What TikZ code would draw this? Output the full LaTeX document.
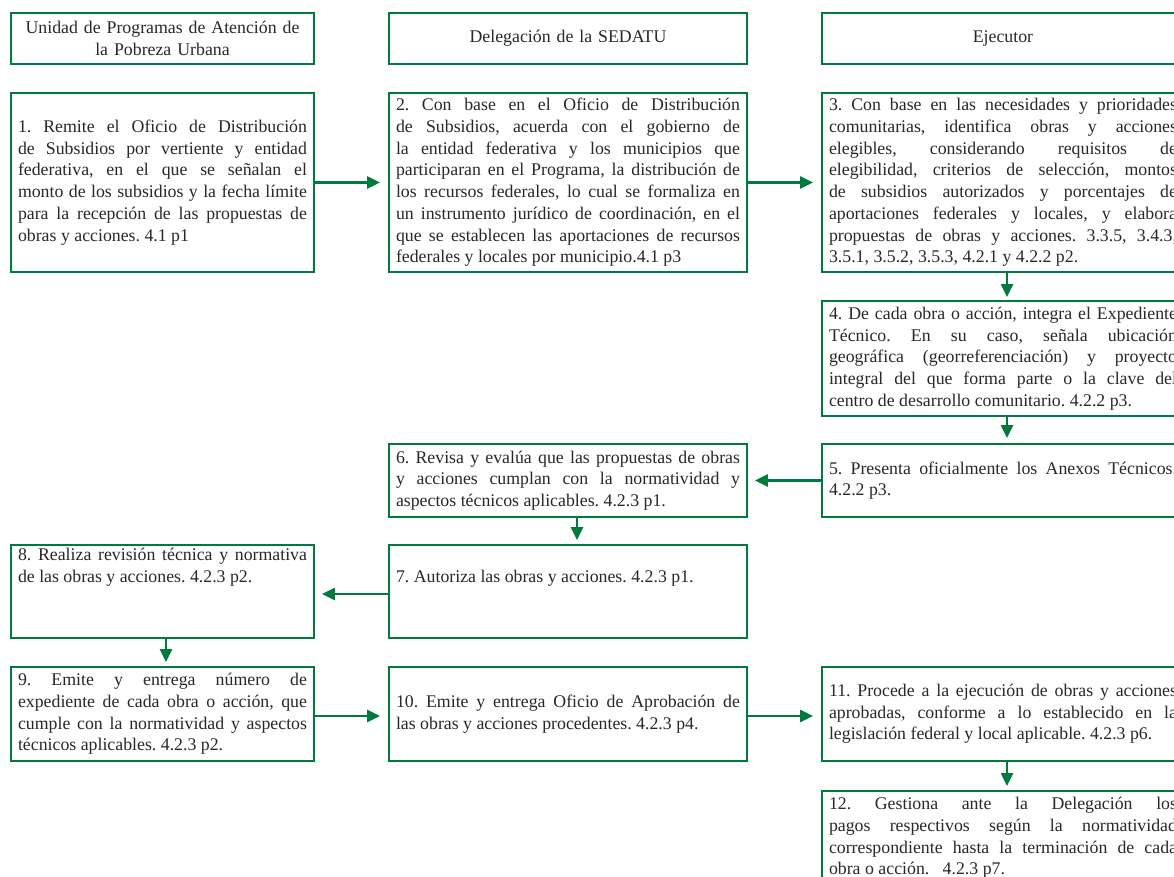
\documentclass[tikz,border=0pt]{standalone}
\usepackage{fontspec}
\setmainfont{Liberation Serif}
\usetikzlibrary{arrows.meta}
\definecolor{fgreen}{RGB}{0,122,61}
\definecolor{txt}{RGB}{40,40,40}
\frenchspacing
\begin{document}
\begin{tikzpicture}[x=1pt,y=-1pt,
  every node/.style={font=\fontsize{17.8}{21.7}\selectfont\frenchspacing, text=txt},
  box/.style={draw=fgreen, line width=1.9pt, rectangle, inner xsep=7pt, inner ysep=2pt, align=justify},
  lcol/.style={box, text width=289pt, minimum width=303pt},
  mcol/.style={box, text width=344pt, minimum width=358pt},
  rcol/.style={box, text width=348pt, minimum width=362pt},
  head/.style={align=center},
  arr/.style={draw=fgreen, line width=2.4pt, -{Triangle[length=13pt,width=12pt]}}
]
\clip (0,0) rectangle (1174,877);
\fill[white] (0,0) rectangle (1174,877);
\hyphenpenalty=10000 \tolerance=10000

% headers
\node[lcol, head, minimum height=51pt] (h1) at (162.5,38.5) {Unidad de Programas de Atención de\\la Pobreza Urbana};
\node[mcol, head, minimum height=51pt] (h2) at (568,38.5) {Delegación de la SEDATU};
\node[rcol, head, minimum height=51pt] (h3) at (1003,38.5) {Ejecutor};

% row 1
\node[lcol, minimum height=179pt] (b1) at (162.5,182.5) {1. Remite el Oficio de Distribución\linebreak de Subsidios por vertiente y entidad\linebreak federativa, en el que se señalan el\linebreak monto de los subsidios y la fecha límite\linebreak para la recepción de las propuestas de\linebreak obras y acciones. 4.1 p1};
\node[mcol, minimum height=179pt] (b2) at (568,182.5) {2. Con base en el Oficio de Distribución\linebreak de Subsidios, acuerda con el gobierno de\linebreak la entidad federativa y los municipios que\linebreak participaran en el Programa, la distribución de\linebreak los recursos federales, lo cual se formaliza en\linebreak un instrumento jurídico de coordinación, en el\linebreak que se establecen las aportaciones de recursos\linebreak federales y locales por municipio.4.1 p3};
\node[rcol, minimum height=179pt] (b3) at (1003,182.5) {3. Con base en las necesidades y prioridades\linebreak comunitarias, identifica obras y acciones\linebreak elegibles, considerando requisitos de\linebreak elegibilidad, criterios de selección, montos\linebreak de subsidios autorizados y porcentajes de\linebreak aportaciones federales y locales, y elabora\linebreak propuestas de obras y acciones. 3.3.5, 3.4.3,\linebreak 3.5.1, 3.5.2, 3.5.3, 4.2.1 y 4.2.2 p2.};

\node[rcol, minimum height=115pt] (b4) at (1003,358.5) {4. De cada obra o acción, integra el Expediente\linebreak Técnico. En su caso, señala ubicación\linebreak geográfica (georreferenciación) y proyecto\linebreak integral del que forma parte o la clave del\linebreak centro de desarrollo comunitario. 4.2.2 p3.};

\node[rcol, minimum height=73pt] (b5) at (1003,480.5) {5. Presenta oficialmente los Anexos Técnicos.\linebreak 4.2.2 p3.};
\node[mcol, minimum height=73pt] (b6) at (568,480.5) {6. Revisa y evalúa que las propuestas de obras\linebreak y acciones cumplan con la normatividad y\linebreak aspectos técnicos aplicables. 4.2.3 p1.};

\node[mcol, minimum height=93pt] (b7) at (568,591.5) {\parbox[c][86pt][t]{344pt}{\vspace*{21.7pt}7. Autoriza las obras y acciones. 4.2.3 p1.}};
\node[lcol, minimum height=93pt] (b8) at (162.5,591.5) {\parbox[c][86pt][t]{289pt}{\hyphenpenalty=10000 8. Realiza revisión técnica y normativa\linebreak de las obras y acciones. 4.2.3 p2.}};

\node[lcol, minimum height=94pt] (b9) at (162.5,714) {9. Emite y entrega número de\linebreak expediente de cada obra o acción, que\linebreak cumple con la normatividad y aspectos\linebreak técnicos aplicables. 4.2.3 p2.};
\node[mcol, minimum height=94pt] (b10) at (568,714) {10. Emite y entrega Oficio de Aprobación de\linebreak las obras y acciones procedentes. 4.2.3 p4.};
\node[rcol, minimum height=94pt] (b11) at (1003,714) {11. Procede a la ejecución de obras y acciones\linebreak aprobadas, conforme a lo establecido en la\linebreak legislación federal y local aplicable. 4.2.3 p6.};
\node[rcol, minimum height=94pt] (b12) at (1003,838) {12. Gestiona ante la Delegación los\linebreak pagos respectivos según la normatividad\linebreak correspondiente hasta la terminación de cada\linebreak obra o acción.~~~4.2.3 p7.};

% connectors
\draw[arr, shorten >=8pt] (b1.east) -- (b2.west);
\draw[arr, shorten >=8pt] (b2.east) -- (b3.west);
\draw[arr, shorten >=3pt] ([xshift=4pt]b3.south) -- ([xshift=4pt]b4.north);
\draw[arr, shorten >=5pt] ([xshift=4pt]b4.south) -- ([xshift=4pt]b5.north);
\draw[arr, shorten >=7pt] (b5.west) -- (b6.east);
\draw[arr, shorten >=4pt] ([xshift=9pt]b6.south) -- ([xshift=9pt]b7.north);
\draw[arr, shorten >=7pt] ([yshift=-2.5pt]b7.west) -- ([yshift=-2.5pt]b8.east);
\draw[arr, shorten >=4pt] ([xshift=3.5pt]b8.south) -- ([xshift=3.5pt]b9.north);
\draw[arr, shorten >=8pt] ([yshift=-2pt]b9.east) -- ([yshift=-2pt]b10.west);
\draw[arr, shorten >=8pt] ([yshift=-2pt]b10.east) -- ([yshift=-2pt]b11.west);
\draw[arr, shorten >=4pt] ([xshift=4pt]b11.south) -- ([xshift=4pt]b12.north);
\end{tikzpicture}
\end{document}
